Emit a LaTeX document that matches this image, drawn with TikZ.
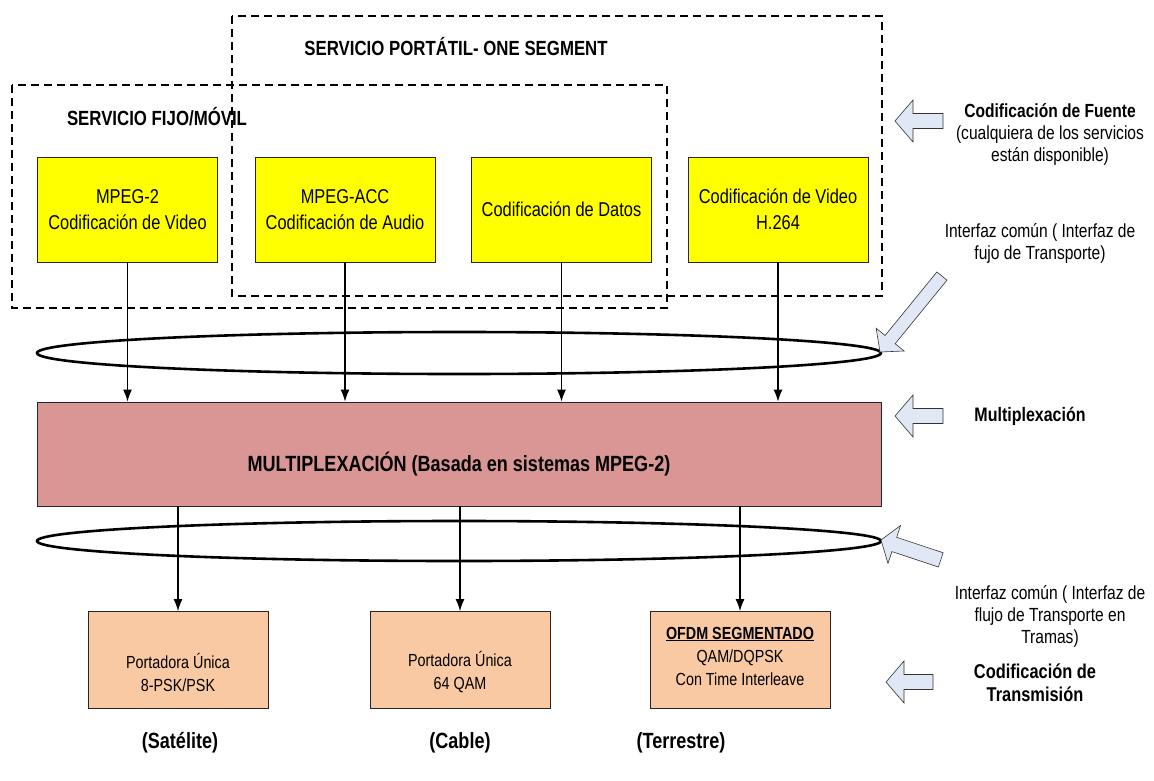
\documentclass[tikz,border=0pt]{standalone}
\usepackage{fontspec}
\setmainfont{Liberation Sans}[FakeStretch=0.82]
\usetikzlibrary{arrows.meta}
\definecolor{srcyellow}{HTML}{FFFF00}
\definecolor{muxpink}{HTML}{D99694}
\definecolor{txpeach}{HTML}{F9C9A3}
\definecolor{hintblue}{HTML}{E1E8F5}
% hollow pointer: #1 tip, #2 angle of the tail, #3 length, #4 head length, #5 head width, #6 shaft width
\newcommand\hollowarr[6]{%
  \begin{scope}[shift={#1}, rotate=#2]
    \draw[hollow] (0,0) -- (#4,-#5/2) -- (#4,-#6/2) -- (#3,-#6/2)
      -- (#3,#6/2) -- (#4,#6/2) -- (#4,#5/2) -- cycle;
  \end{scope}}
\begin{document}
\begin{tikzpicture}[x=1pt,y=-1pt,
  dashbox/.style={draw, line width=2pt, dash pattern=on 8pt off 5pt},
  srcbox/.style={draw=black!85, line width=0.8pt, fill=srcyellow,
    minimum width=180pt, minimum height=105pt, inner sep=0pt, align=center,
    font=\fontsize{20}{26}\selectfont},
  txbox/.style={draw=black!85, line width=0.8pt, fill=txpeach,
    minimum width=180pt, minimum height=97pt, inner sep=0pt},
  txtext/.style={align=center, font=\fontsize{17.5}{23}\selectfont},
  flow/.style={-{Latex[length=12pt,width=9pt]}, line width=1.2pt},
  ring/.style={draw, line width=2.6pt},
  hollow/.style={draw=black!80, line width=0.6pt, fill=hintblue},
  title/.style={font=\fontsize{20.5}{24}\selectfont\bfseries},
  side/.style={align=center, font=\fontsize{19}{22}\selectfont},
  place/.style={font=\fontsize{22}{24}\selectfont\bfseries}
]
\useasboundingbox (0,0) rectangle (1154,780);

% service groups
\draw[dashbox] (232,16) rectangle (882,296);
\draw[dashbox] (12,85) rectangle (667,308);
\node[title] (portatil) at (456,47) {SERVICIO PORTÁTIL- ONE SEGMENT};
\node[title] (fijo) at (157,117) {SERVICIO FIJO/MÓVIL};

% source coders
\node[srcbox] (s1) at (127.5,209.5) {MPEG-2\\Codificación de Video};
\node[srcbox] (s2) at (345,209.5) {MPEG-ACC\\Codificación de Audio};
\node[srcbox] (s3) at (561.5,209.5) {Codificación de Datos};
\node[srcbox] (s4) at (778,209.5) {Codificación de Video\\H.264};

% multiplexer
\node[draw=black!85, line width=0.8pt, fill=muxpink, minimum width=844pt,
  minimum height=104pt, inner sep=0pt] (mux) at (459,454) {};
\node[title, font=\fontsize{22}{24}\selectfont\bfseries] (muxtext) at (459,464)
  {MULTIPLEXACIÓN (Basada en sistemas MPEG-2)};

% transmission coders
\node[txbox] (t1) at (178,660) {};
\node[txbox] (t2) at (460,660) {};
\node[txbox] (t3) at (740,660) {};
\node[txtext] (t1text) at (178,672) {Portadora Única\\8-PSK/PSK};
\node[txtext] (t2text) at (460,672) {Portadora Única\\64 QAM};
\node[txtext] (t3text) at (740,656) {\textbf{\underline{OFDM SEGMENTADO}}\\QAM/DQPSK\\Con Time Interleave};

% common interfaces
\draw[ring] (459,353) ellipse [x radius=422, y radius=21];
\draw[ring] (459,541) ellipse [x radius=422, y radius=20];

% streams
\foreach \s in {s1,s2,s3,s4}
  \draw[flow] (\s.south) -- (\s.south |- mux.north);
\foreach \t in {t1,t2,t3}
  \draw[flow] (\t.north |- mux.south) -- (\t.north);

% delivery media
\node[place] (sat) at (180,743) {(Satélite)};
\node[place] (cab) at (460,743) {(Cable)};
\node[place] (ter) at (681,743) {(Terrestre)};

% layer annotations
\hollowarr{(895,121)}{0}{48}{18}{42}{15}
\hollowarr{(880,352)}{50.8}{98}{16}{36}{13}
\hollowarr{(895,416)}{0}{48}{18}{42}{15}
\hollowarr{(881,540)}{-18.4}{63}{14}{40}{15}
\hollowarr{(886,682)}{0}{47}{18}{42}{15}

\node[side] (fuente) at (1050,134) {\textbf{Codificación de Fuente}\\(cualquiera de los servicios\\están disponible)};
\node[side] (iface1) at (1040,243) {Interfaz común ( Interfaz de\\fujo de Transporte)};
\node[side, font=\fontsize{19.5}{22}\selectfont\bfseries] (mpx) at (1030,416) {Multiplexación};
\node[side] (iface2) at (1050,616) {Interfaz común ( Interfaz de\\flujo de Transporte en\\Tramas)};
\node[side, font=\fontsize{20}{23}\selectfont\bfseries] (txc) at (1035,683) {Codificación de\\Transmisión};
\end{tikzpicture}
\end{document}
